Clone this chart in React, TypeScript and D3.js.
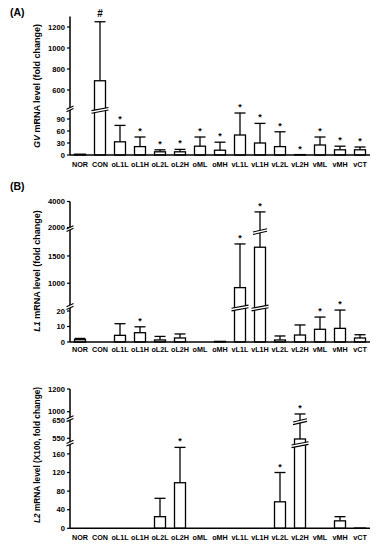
import React from "react";
import * as d3 from "d3";

// ---------- DATA ----------
const categories = ["NOR", "CON", "oL1L", "oL1H", "oL2L", "oL2H", "oML", "oMH", "vL1L", "vL1H", "vL2L", "vL2H", "vML", "vMH", "vCT"];

// (A) GV mRNA level (fold change)
const gvMean = [2, 688, 33, 21, 8, 8, 22, 12, 50, 30, 21, 1, 25, 13, 13];
const gvSd = [0, 562, 41, 24, 5, 6, 23, 20, 55, 49, 37, 0, 20, 9, 7];
const gvSig = ["", "#", "*", "*", "*", "*", "*", "*", "*", "*", "*", "*", "*", "*", "*"];
const gvTicks = [0, 30, 60, 90, 600, 800, 1000, 1200];

// (B) L1 mRNA level (fold change)
const l1Mean = [1.5, 0, 4.3, 6, 1.3, 2.6, 0, 0.4, 920, 1660, 1.3, 4.5, 8.2, 8.8, 2.6];
const l1Sd = [0.8, 0, 7.5, 3.8, 2.3, 2.6, 0, 0, 800, 1540, 2.6, 6.5, 7.9, 11.8, 2.1];
const l1Sig = ["", "", "", "*", "", "", "", "", "*", "*", "", "", "*", "*", ""];
const l1Ticks = [0, 10, 20, 1000, 1500, 2000, 4000];

// L2 mRNA level (X100, fold change)
const l2Mean = [0, 0, 0, 0, 25, 98, 0, 0, 0, 0, 57, 546, 0, 16, 0.5];
const l2Sd = [0, 0, 0, 0, 39.5, 76, 0, 0, 0, 0, 63, 434, 0, 9, 0];
const l2Sig = ["", "", "", "", "", "*", "", "", "", "", "*", "*", "", "", ""];
const l2Ticks = [0, 40, 80, 120, 160, 550, 650, 1000, 1200];

// ---------- LAYOUT ----------
const FONT = "'Liberation Sans', Arial, Helvetica, sans-serif";
const X0 = 70;
const X1 = 370;
const BAR_W = 11;

type Seg = { d: [number, number]; r: [number, number] };

const segsA: Seg[] = [
  { d: [0, 105], r: [155, 113] },
  { d: [460, 1300], r: [104.7, 16.5] },
];
const segsL1: Seg[] = [
  { d: [0, 22], r: [342, 307.9] },
  { d: [600, 1980], r: [305.1, 229.75] },
  { d: [2000, 4000], r: [227.5, 201.5] },
];
const segsL2: Seg[] = [
  { d: [0, 180], r: [528.3, 444.6] },
  { d: [530, 660], r: [441.8, 418.9] },
  { d: [940, 1200], r: [418.5, 389] },
];

function makeY(segs: Seg[]) {
  const scales = segs.map((s) => d3.scaleLinear().domain(s.d).range(s.r));
  return (v: number): number => {
    for (let i = 0; i < segs.length; i++) {
      if (v <= segs[i].d[1] || i === segs.length - 1) {
        if (i > 0 && v < segs[i].d[0]) {
          const yb = segs[i - 1].r[1];
          const yt = segs[i].r[0];
          const t = (v - segs[i - 1].d[1]) / (segs[i].d[0] - segs[i - 1].d[1]);
          return yb + (yt - yb) * t;
        }
        return scales[i](v);
      }
    }
    return scales[scales.length - 1](v);
  };
}

function BreakMark({ cx, cy, w }: { cx: number; cy: number; w: number }) {
  const h = 3.2;
  const g = 2.6;
  const x0 = cx - w / 2;
  const x1 = cx + w / 2;
  const lo0 = cy + g / 2 + h / 2;
  const lo1 = cy + g / 2 - h / 2;
  const up0 = cy - g / 2 + h / 2;
  const up1 = cy - g / 2 - h / 2;
  return (
    <g>
      <polygon points={`${x0},${lo0} ${x1},${lo1} ${x1},${up1} ${x0},${up0}`} fill="white" />
      <line x1={x0} y1={lo0} x2={x1} y2={lo1} stroke="black" strokeWidth={1.1} />
      <line x1={x0} y1={up0} x2={x1} y2={up1} stroke="black" strokeWidth={1.1} />
    </g>
  );
}

const xScale = d3.scaleBand<string>().domain(categories).range([X0, X1]).padding(0);

function Panel({
  segs,
  mean,
  sd,
  sig,
  ticks,
  catY,
  ylabel,
  labelCy,
  labelSize,
}: {
  segs: Seg[];
  mean: number[];
  sd: number[];
  sig: string[];
  ticks: number[];
  catY: number;
  ylabel: React.ReactNode;
  labelCy: number;
  labelSize: number;
}) {
  const y = makeY(segs);
  const baseY = segs[0].r[0];
  const topY = segs[segs.length - 1].r[1];
  const breaks = segs.slice(1).map((s, i) => (segs[i].r[1] + s.r[0]) / 2);
  const bw = xScale.bandwidth();

  return (
    <g>
      {categories.map((c, i) => {
        const cx = (xScale(c) as number) + bw / 2;
        const m = mean[i];
        const s = sd[i];
        const yTop = y(m);
        const yErr = y(m + s);
        const marks: React.ReactNode[] = [];
        breaks.forEach((by, k) => {
          if (yTop < by - 1) {
            marks.push(<BreakMark key={"b" + k} cx={cx} cy={by + 1.5} w={BAR_W + 6} />);
          } else if (s > 0 && yErr < by - 1 && yTop > by) {
            marks.push(<BreakMark key={"e" + k} cx={cx} cy={by + 3} w={BAR_W + 3} />);
          }
        });
        const sy = s > 0 ? yErr : yTop;
        return (
          <g key={c}>
            {s > 0 && (
              <g stroke="black" strokeWidth={1.3}>
                <line x1={cx} x2={cx} y1={yTop} y2={yErr} />
                <line x1={cx - BAR_W / 2} x2={cx + BAR_W / 2} y1={yErr} y2={yErr} />
              </g>
            )}
            <rect
              x={cx - BAR_W / 2}
              y={yTop}
              width={BAR_W}
              height={Math.max(0, baseY - yTop)}
              fill="white"
              stroke="black"
              strokeWidth={1.3}
            />
            {marks}
            {sig[i] && (
              <text
                x={cx}
                y={sig[i] === "#" ? sy - 5 : sy - 3}
                textAnchor="middle"
                fontSize={sig[i] === "#" ? 10 : 9}
                fontWeight="bold"
                fontFamily={FONT}
              >
                {sig[i]}
              </text>
            )}
          </g>
        );
      })}
      <line x1={X0} x2={X1} y1={baseY} y2={baseY} stroke="black" strokeWidth={1.5} />
      {categories.map((c) => (
        <text
          key={c}
          x={(xScale(c) as number) + bw / 2}
          y={catY}
          textAnchor="middle"
          fontSize={7.2}
          fontWeight="bold"
          fontFamily={FONT}
        >
          {c}
        </text>
      ))}
      <line x1={X0} x2={X0} y1={baseY} y2={topY} stroke="black" strokeWidth={1.5} />
      {ticks.map((t) => (
        <g key={t}>
          <line x1={X0 - 3} x2={X0} y1={y(t)} y2={y(t)} stroke="black" strokeWidth={1.2} />
          <text
            x={X0 - 5}
            y={y(t)}
            dy="0.35em"
            textAnchor="end"
            fontSize={7.6}
            fontWeight="bold"
            fontFamily={FONT}
          >
            {t}
          </text>
        </g>
      ))}
      {breaks.map((by, k) => (
        <BreakMark key={k} cx={X0} cy={by} w={7} />
      ))}
      <text
        transform={`translate(40,${labelCy}) rotate(-90)`}
        textAnchor="middle"
        fontSize={labelSize}
        fontWeight="bold"
        fontFamily={FONT}
      >
        {ylabel}
      </text>
    </g>
  );
}

export default function App() {
  return (
    <svg
      width={382}
      height={550}
      viewBox="0 0 382 550"
      style={{ position: "absolute", left: 0, top: 0, background: "white" }}
    >
      <rect x={0} y={0} width={382} height={550} fill="white" />
      <text x={10} y={16} fontSize={10.5} fontWeight="bold" fontFamily={FONT}>
        (A)
      </text>
      <text x={10} y={190} fontSize={10.5} fontWeight="bold" fontFamily={FONT}>
        (B)
      </text>
      <Panel
        segs={segsA}
        mean={gvMean}
        sd={gvSd}
        sig={gvSig}
        ticks={gvTicks}
        catY={167}
        labelCy={86}
        labelSize={9}
        ylabel={
          <>
            <tspan fontStyle="italic">GV</tspan> mRNA level (fold change)
          </>
        }
      />
      <Panel
        segs={segsL1}
        mean={l1Mean}
        sd={l1Sd}
        sig={l1Sig}
        ticks={l1Ticks}
        catY={352}
        labelCy={271}
        labelSize={9}
        ylabel={
          <>
            <tspan fontStyle="italic">L1</tspan> mRNA level (fold change)
          </>
        }
      />
      <Panel
        segs={segsL2}
        mean={l2Mean}
        sd={l2Sd}
        sig={l2Sig}
        ticks={l2Ticks}
        catY={539.5}
        labelCy={455}
        labelSize={8.3}
        ylabel={
          <>
            <tspan fontStyle="italic">L2</tspan> mRNA level (X100, fold change)
          </>
        }
      />
    </svg>
  );
}
